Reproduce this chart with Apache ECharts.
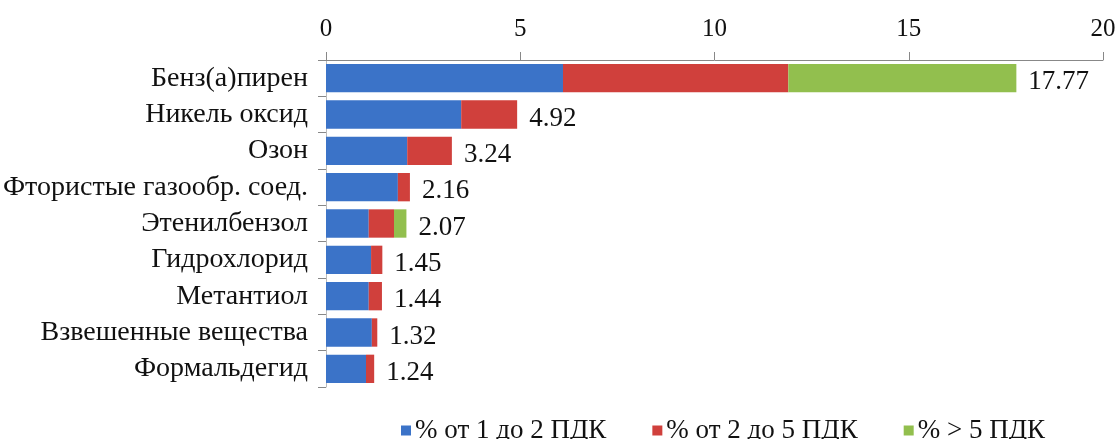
<!DOCTYPE html>
<html>
<head>
<meta charset="utf-8">
<script src="https://cdn.jsdelivr.net/npm/echarts@6/dist/echarts.min.js"></script>
<style>
  html, body { margin: 0; padding: 0; background: #fff; }
  #chart { width: 1120px; height: 439px; }
</style>
</head>
<body>
<div id="chart"></div>
<script>
var categories = ["Бенз(а)пирен", "Никель оксид", "Озон", "Фтористые газообр. соед.",
  "Этенилбензол", "Гидрохлорид", "Метантиол", "Взвешенные вещества", "Формальдегид"];
var seriesNames = ["% от 1 до 2 ПДК", "% от 2 до 5 ПДК", "% > 5 ПДК"];
var from1to2 = [6.1, 3.48, 2.09, 1.85, 1.1, 1.16, 1.1, 1.18, 1.03];
var from2to5 = [5.8, 1.44, 1.15, 0.31, 0.65, 0.29, 0.34, 0.14, 0.21];
var over5 = [5.87, 0, 0, 0, 0.32, 0, 0, 0, 0];
var totals = [17.77, 4.92, 3.24, 2.16, 2.07, 1.45, 1.44, 1.32, 1.24];

var font = "Liberation Serif";
var chart = echarts.init(document.getElementById('chart'), null, {renderer: 'canvas'});

var option = {
  color: ["#3b73c8", "#d0403c", "#92bf4e"],
  textStyle: { fontFamily: font },
  grid: { left: 325, right: 17, top: 60, bottom: 52, containLabel: false },
  legend: {
    top: 412,
    left: 396,
    itemWidth: 10,
    itemHeight: 10,
    itemGap: 46,
    icon: 'rect',
    textStyle: { fontFamily: font, fontSize: 27, color: '#111', padding: [0, 0, 0, -1] },
    data: seriesNames
  },
  xAxis: {
    type: 'value',
    position: 'top',
    min: 0,
    max: 20,
    interval: 5,
    axisLine: { show: true, lineStyle: { color: '#888' } },
    axisTick: { show: true, length: 8, lineStyle: { color: '#888' } },
    axisLabel: { fontFamily: font, fontSize: 25, color: '#111', margin: 18 },
    splitLine: { show: false }
  },
  yAxis: {
    type: 'category',
    inverse: true,
    data: categories,
    axisLine: { show: true, lineStyle: { color: '#bbb' } },
    axisTick: { show: true, length: 8, interval: 0, lineStyle: { color: '#888' } },
    axisLabel: { fontFamily: font, fontSize: 28, color: '#111', margin: 18, interval: 0 }
  },
  series: [
    {
      name: seriesNames[0], type: 'bar', stack: 'total', barCategoryGap: '22%',
      data: from1to2
    },
    {
      name: seriesNames[1], type: 'bar', stack: 'total',
      data: from2to5
    },
    {
      name: seriesNames[2], type: 'bar', stack: 'total',
      data: over5.map(function (v, i) {
        return {
          value: v,
          label: {
            show: true,
            position: 'right',
            distance: 12,
            offset: [0, 4],
            formatter: totals[i].toFixed(2),
            fontFamily: font,
            fontSize: 27,
            color: '#111'
          }
        };
      })
    }
  ]
};
chart.setOption(option);
</script>
</body>
</html>
